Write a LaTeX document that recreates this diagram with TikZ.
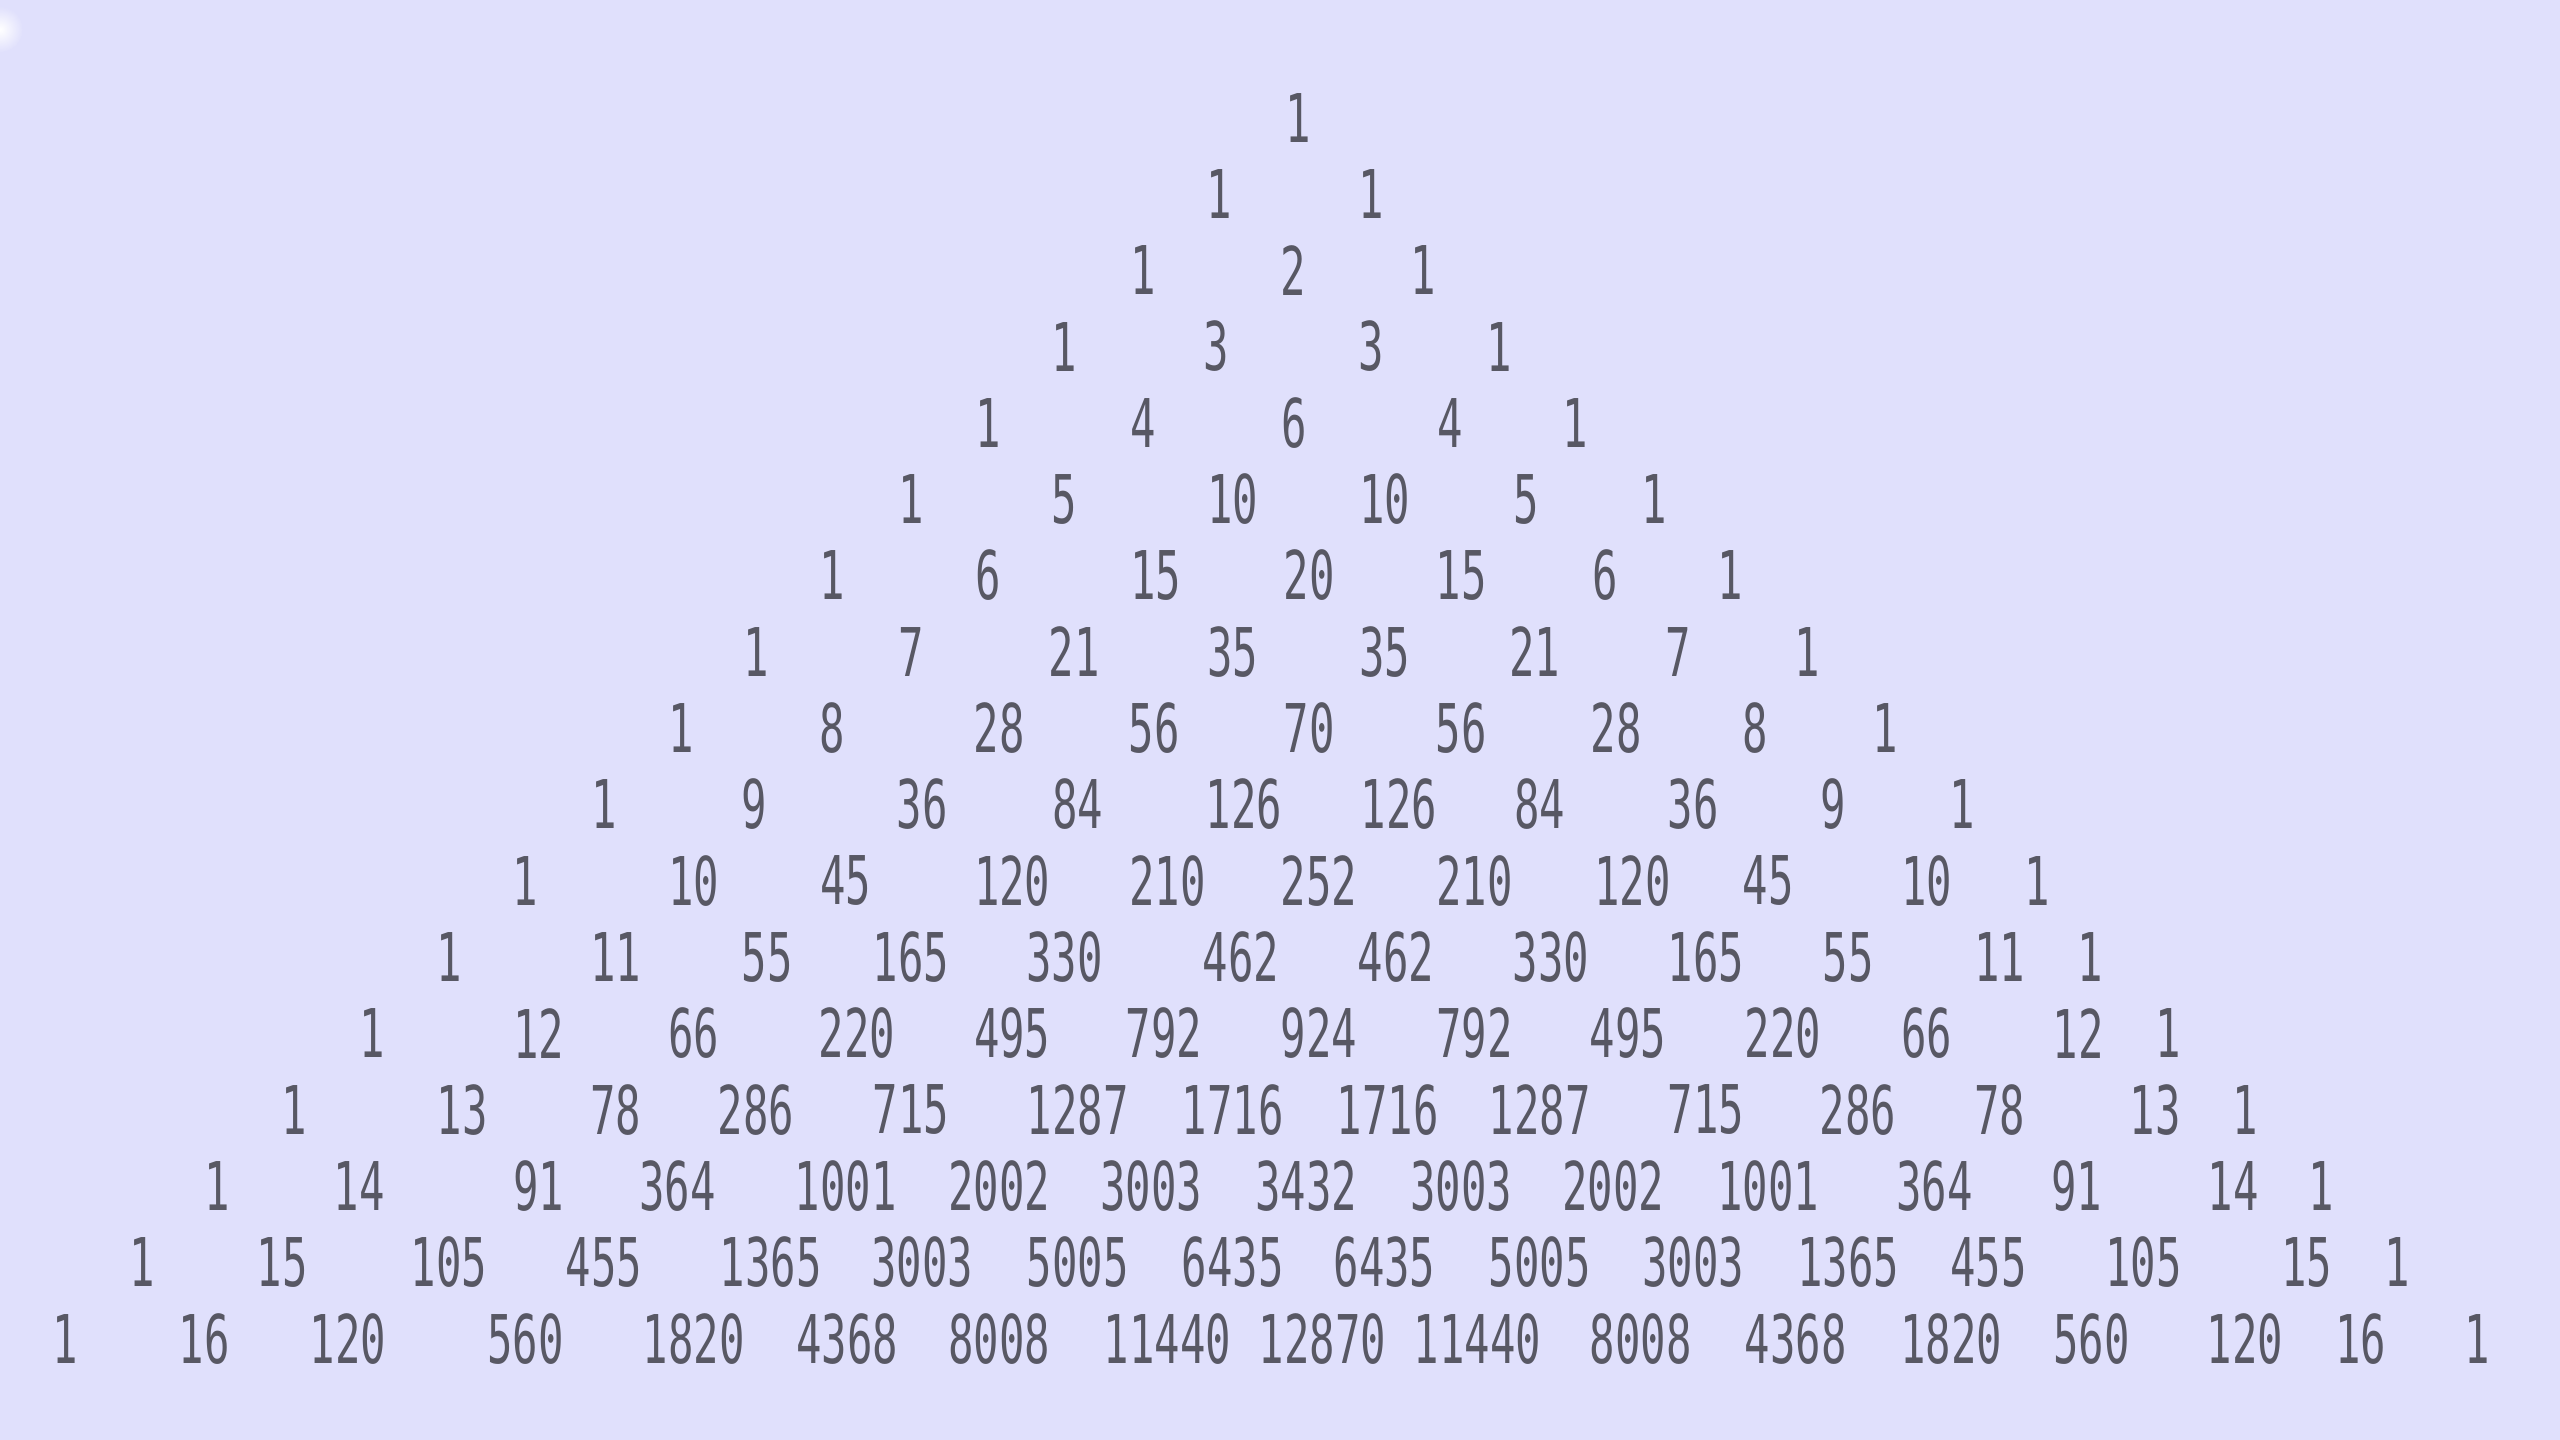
\documentclass[tikz,border=0pt]{standalone}
\usepackage{fontspec}
\newfontfamily\numfont[FakeStretch=0.63]{DejaVu Sans Mono}
\definecolor{bg}{RGB}{224,224,252}
\definecolor{ink}{RGB}{88,88,100}
\newcommand\pasrow[2]{%
  \foreach \x/\t [count=\k] in {#2} {%
    \node[num] (n#1-\k) at (\x, {72+46.75*#1}) {\t};%
  }%
}
\begin{document}
\begin{tikzpicture}[x=0.01cm,y=-0.01cm,
  num/.style={inner sep=0pt, text=ink, font=\numfont\fontsize{11.7}{12}\selectfont}]
\fill[bg] (0,0) rectangle (1568,882);
\useasboundingbox (0,0) rectangle (1568,882);
\shade[inner color=white, outer color=bg] (0,18) circle (14);
\pasrow{0}{795/1}
\pasrow{1}{747/1, 840/1}
\pasrow{2}{700/1, 792/2, 872/1}
\pasrow{3}{652/1, 745/3, 840/3, 918/1}
\pasrow{4}{605/1, 700/4, 793/6, 888/4, 965/1}
\pasrow{5}{558/1, 652/5, 755/10, 848/10, 935/5, 1013/1}
\pasrow{6}{510/1, 605/6, 708/15, 802/20, 895/15, 983/6, 1060/1}
\pasrow{7}{463/1, 558/7, 658/21, 755/35, 848/35, 940/21, 1028/7, 1107/1}
\pasrow{8}{417/1, 510/8, 612/28, 707/56, 802/70, 895/56, 990/28, 1075/8, 1155/1}
\pasrow{9}{370/1, 462/9, 565/36, 660/84, 762/126, 857/126, 943/84, 1037/36, 1123/9, 1202/1}
\pasrow{10}{322/1, 425/10, 518/45, 620/120, 715/210, 808/252, 903/210, 1000/120, 1083/45, 1180/10, 1248/1}
\pasrow{11}{275/1, 377/11, 470/55, 558/165, 652/330, 760/462, 855/462, 950/330, 1045/165, 1132/55, 1225/11, 1280/1}
\pasrow{12}{228/1, 330/12, 425/66, 525/220, 620/495, 713/792, 808/924, 903/792, 997/495, 1092/220, 1180/66, 1273/12, 1328/1}
\pasrow{13}{180/1, 283/13, 377/78, 463/286, 558/715, 660/1287, 755/1716, 850/1716, 943/1287, 1045/715, 1138/286, 1225/78, 1320/13, 1375/1}
\pasrow{14}{133/1, 220/14, 330/91, 415/364, 518/1001, 612/2002, 705/3003, 800/3432, 895/3003, 988/2002, 1083/1001, 1185/364, 1272/91, 1368/14, 1422/1}
\pasrow{15}{87/1, 173/15, 275/105, 370/455, 472/1365, 565/3003, 660/5005, 755/6435, 848/6435, 943/5005, 1037/3003, 1132/1365, 1218/455, 1313/105, 1413/15, 1468/1}
\pasrow{16}{40/1, 125/16, 213/120, 322/560, 425/1820, 519/4368, 612/8008, 715/11440, 810/12870, 905/11440, 1005/8008, 1100/4368, 1195/1820, 1281/560, 1375/120, 1446/16, 1517/1}
\end{tikzpicture}
\end{document}
